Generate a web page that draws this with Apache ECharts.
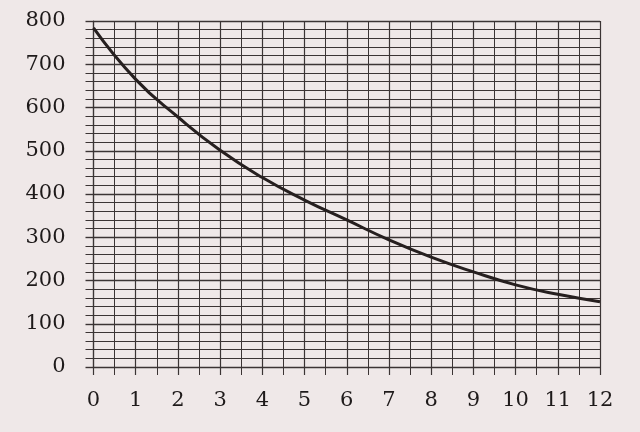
<!DOCTYPE html>
<html>
<head>
<meta charset="utf-8">
<script src="https://cdn.jsdelivr.net/npm/echarts@6/dist/echarts.min.js"></script>
<style>
html,body{margin:0;padding:0;background:#efe8e8;}
#chart{width:640px;height:432px;}
</style>
</head>
<body>
<div id="chart"></div>
<script>
const xValues = [0, 1, 2, 3, 4, 5, 6, 7, 8, 9, 10, 11, 12];
const yValues = [784, 665, 578, 501, 438, 386, 340, 294, 254, 220, 190, 168, 151];
const xTickLabels = ['0','1','2','3','4','5','6','7','8','9','10','11','12'];
const yTickLabels = ['0','100','200','300','400','500','600','700','800'];

const gridColor = '#3b3434';
const chart = echarts.init(document.getElementById('chart'), null, {renderer: 'canvas'});
const fontBase = {fontFamily: 'DejaVu Serif', fontSize: 21, color: '#1e1a1a'};

chart.setOption({
  backgroundColor: '#efe8e8',
  animation: false,
  grid: {left: 93.5, right: 40, top: 21, bottom: 65},
  xAxis: {
    type: 'value', min: 0, max: 12, interval: 1,
    axisLine: {show: true, lineStyle: {color: gridColor, width: 1.2}},
    axisTick: {show: true, length: 8, lineStyle: {color: gridColor, width: 1.2}},
    minorTick: {show: true, splitNumber: 2, length: 8, lineStyle: {color: gridColor, width: 1}},
    splitLine: {show: true, lineStyle: {color: gridColor, width: 1.2}},
    minorSplitLine: {show: true, lineStyle: {color: gridColor, width: 1}},
    axisLabel: Object.assign({margin: 23, formatter: v => xTickLabels[Math.round(v)] ?? ''}, fontBase)
  },
  yAxis: {
    type: 'value', min: 0, max: 800, interval: 100,
    axisLine: {show: true, lineStyle: {color: gridColor, width: 1.2}},
    axisTick: {show: true, length: 8, lineStyle: {color: gridColor, width: 1.4}},
    minorTick: {show: true, splitNumber: 5, length: 8, lineStyle: {color: gridColor, width: 1}},
    splitLine: {show: true, lineStyle: {color: gridColor, width: 1.4}},
    minorSplitLine: {show: true, lineStyle: {color: gridColor, width: 1}},
    axisLabel: Object.assign({margin: 28, formatter: v => yTickLabels[Math.round(v / 100)] ?? ''}, fontBase)
  },
  series: [{
    type: 'line',
    data: xValues.map((x, i) => [x, yValues[i]]),
    smooth: true,
    symbol: 'none',
    lineStyle: {color: '#261f1f', width: 3}
  }]
});
</script>
</body>
</html>
